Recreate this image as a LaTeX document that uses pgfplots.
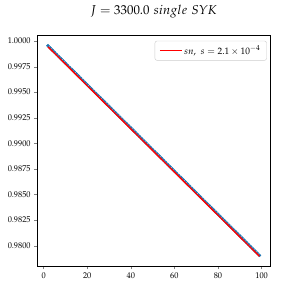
\documentclass[border=0pt]{standalone}
\usepackage{mathpazo}
\usepackage{pgfplots}
\pgfplotsset{compat=1.18}
\definecolor{mplblue}{HTML}{1F77B4}
\pgfplotsset{mylegline/.style={legend image code/.code={\draw[##1] (0pt,0pt) -- (21pt,0pt);}}}
\begin{document}
\begin{tikzpicture}
\useasboundingbox (-36pt,-32.3pt) rectangle (252.9pt,256.4pt);
\begin{axis}[
  at={(0,0)}, anchor=south west,
  scale only axis,
  width=224pt, height=222pt,
  clip mode=individual,
  xmin=-2.85, xmax=103.85,
  ymin=0.97800, ymax=1.00052,
  xtick={0,20,40,60,80,100},
  ytick={0.98,0.9825,0.985,0.9875,0.99,0.9925,0.995,0.9975,1.0},
  yticklabel style={/pgf/number format/.cd, fixed, fixed zerofill, precision=4},
  scaled y ticks=false,
  tick label style={font=\footnotesize},
  tick align=outside,
  tick pos=left,
  major tick length=3pt,
  axis line style={line width=0.6pt},
  title={$J = 3300.0\ single\ SYK$},
  title style={at={(0.5,1)}, anchor=base, yshift=14pt, font=\fontsize{12.4}{14}\selectfont},
  legend style={at={(0.986,0.978)}, anchor=north east, font=\small,
    draw=black!20, rounded corners=2pt, inner xsep=4pt, inner ysep=2.5pt},
  legend cell align=left,
]
\addplot[only marks, mark=*, mark size=1.5pt, color=mplblue, forget plot] coordinates {
(2,0.999538)(3,0.999327)(4,0.999116)(5,0.998905)(6,0.998694)(7,0.998483)(8,0.998272)(9,0.998061)(10,0.997850)
(11,0.997639)(12,0.997428)(13,0.997217)(14,0.997006)(15,0.996795)(16,0.996584)(17,0.996373)(18,0.996162)(19,0.995951)(20,0.995740)
(21,0.995529)(22,0.995318)(23,0.995107)(24,0.994896)(25,0.994685)(26,0.994474)(27,0.994263)(28,0.994052)(29,0.993841)(30,0.993630)
(31,0.993419)(32,0.993208)(33,0.992997)(34,0.992786)(35,0.992575)(36,0.992364)(37,0.992153)(38,0.991942)(39,0.991731)(40,0.991520)
(41,0.991309)(42,0.991098)(43,0.990887)(44,0.990676)(45,0.990465)(46,0.990254)(47,0.990043)(48,0.989832)(49,0.989621)(50,0.989410)
(51,0.989199)(52,0.988988)(53,0.988777)(54,0.988566)(55,0.988355)(56,0.988144)(57,0.987933)(58,0.987722)(59,0.987511)(60,0.987300)
(61,0.987089)(62,0.986878)(63,0.986667)(64,0.986456)(65,0.986245)(66,0.986034)(67,0.985823)(68,0.985612)(69,0.985401)(70,0.985190)
(71,0.984979)(72,0.984768)(73,0.984557)(74,0.984346)(75,0.984135)(76,0.983924)(77,0.983713)(78,0.983502)(79,0.983291)(80,0.983080)
(81,0.982869)(82,0.982658)(83,0.982447)(84,0.982236)(85,0.982025)(86,0.981814)(87,0.981603)(88,0.981392)(89,0.981181)(90,0.980970)
(91,0.980759)(92,0.980548)(93,0.980337)(94,0.980126)(95,0.979915)(96,0.979704)(97,0.979493)(98,0.979282)(99,0.979071)
};
\addplot[color=red, line width=1.3pt, mylegline] coordinates {(2,0.999438)(99,0.978971)};
\addlegendentry{$sn,\ s = 2.1\times10^{-4}$}
\end{axis}
\end{tikzpicture}
\end{document}
